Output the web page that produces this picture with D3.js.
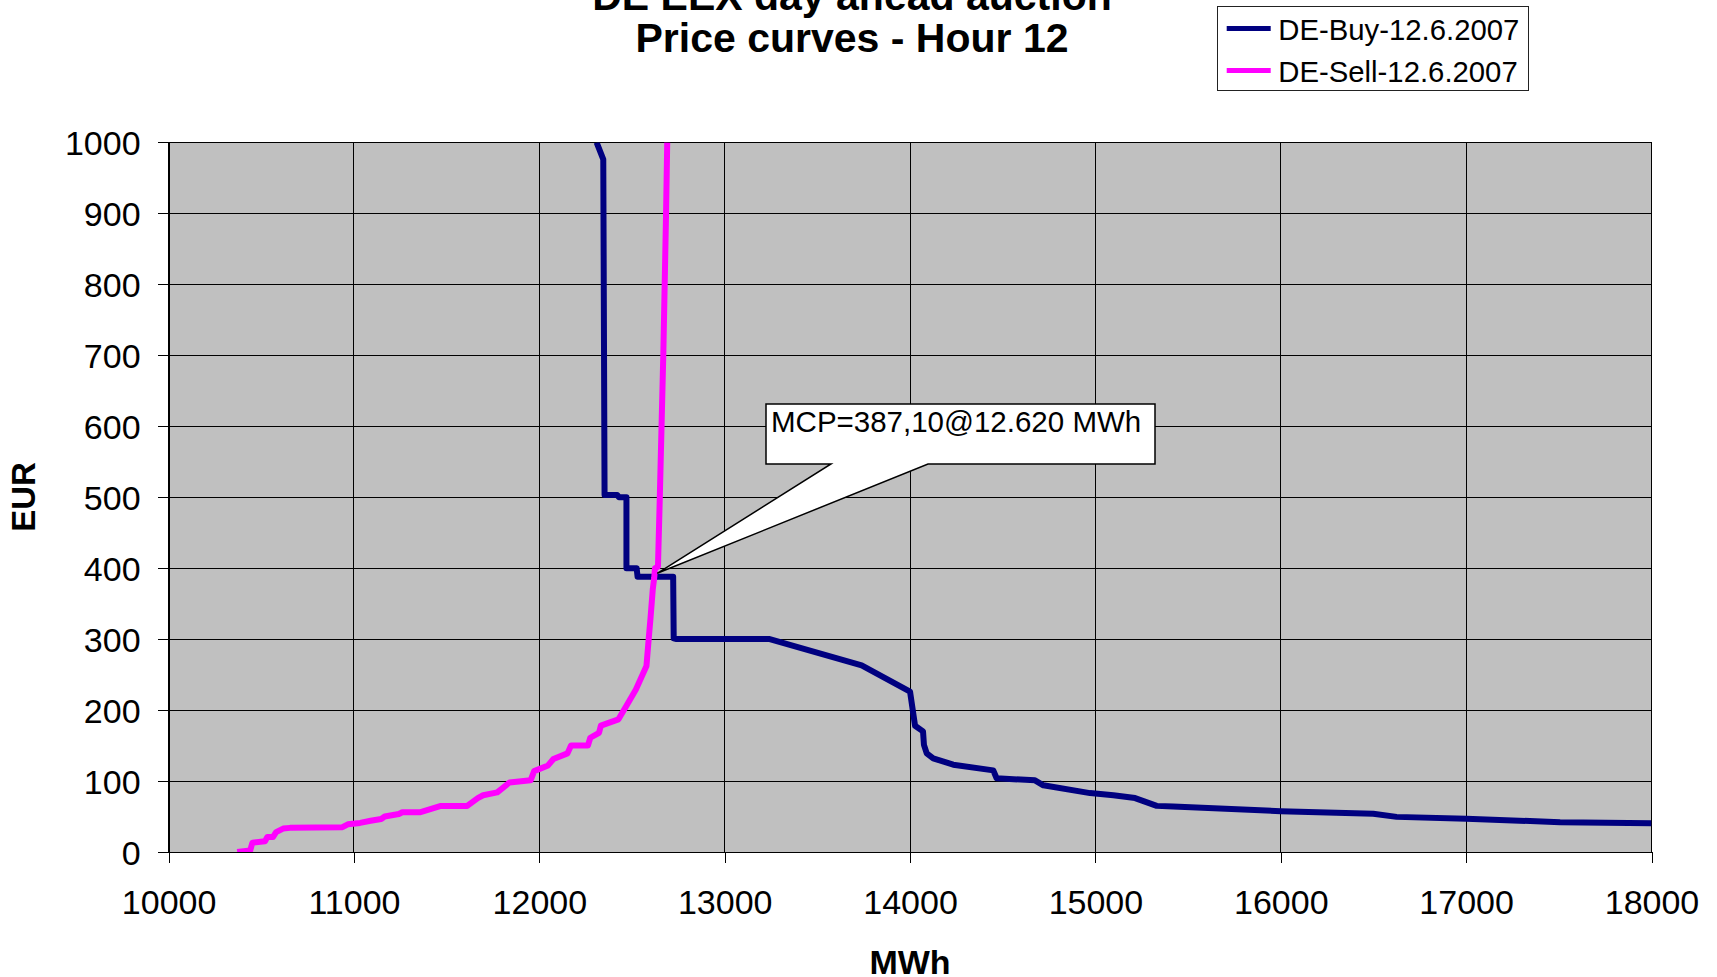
<!DOCTYPE html>
<html>
<head>
<meta charset="utf-8">
<script src="https://cdn.jsdelivr.net/npm/d3@7"></script>
<style>
  html, body { margin: 0; padding: 0; background: #fff; }
  svg { display: block; }
  text { font-family: Arial, "Liberation Sans", sans-serif; fill: #000; }
</style>
</head>
<body>
<svg id="chart" width="1717" height="977"></svg>
<script>
// ---------------- DATA ----------------
const titleLines = ["DE EEX day ahead auction", "Price curves - Hour 12"];
const xAxisTitle = "MWh";
const yAxisTitle = "EUR";
const seriesNames = ["DE-Buy-12.6.2007", "DE-Sell-12.6.2007"];
const xTicks = [10000, 11000, 12000, 13000, 14000, 15000, 16000, 17000, 18000];
const yTicks = [0, 100, 200, 300, 400, 500, 600, 700, 800, 900, 1000];

const buyMWh = [12309, 12345, 12352, 12420, 12430, 12470, 12470, 12525, 12530, 12722, 12725, 12740,
  13243, 13739, 14000, 14027, 14070, 14075, 14090, 14125, 14233, 14449, 14467, 14674, 14719,
  14971, 15097, 15214, 15331, 15420, 16000, 16499, 16625, 17001, 17507, 18000];
const buyEUR = [1000, 976, 503, 503, 500, 500, 400, 400, 388, 388, 301, 300,
  300, 263, 226, 178, 170, 151, 139, 132, 123, 115, 104, 101, 94,
  83, 80, 76, 65, 64, 57.5, 54, 49.5, 47, 42, 40.5];

const sellMWh = [10370, 10440, 10452, 10520, 10532, 10563, 10580, 10618, 10655, 10938, 10967, 11033,
  11090, 11147, 11166, 11242, 11261, 11355, 11469, 11611, 11668, 11697, 11773, 11839, 11953, 11972,
  12047, 12076, 12152, 12171, 12262, 12275, 12322, 12332, 12427, 12474, 12521, 12578, 12590, 12600,
  12612, 12620, 12624, 12640, 12650, 12669, 12683, 12690];
const sellEUR = [0, 2, 13, 15, 21, 21, 28, 33, 34, 35, 39, 41,
  44, 46.5, 50, 53.5, 56, 56, 65, 65, 76, 80, 84, 98, 101, 114,
  122, 131, 139, 150, 150, 161, 168, 178, 187, 208, 229, 262, 300, 330,
  370, 387, 400, 402, 500, 703, 890, 1000];

const mcpLabel = "MCP=387,10@12.620 MWh";
const mcpVolume = 12620;
const mcpPrice = 387.1;

const seriesColors = ["#000080", "#FF00FF"];

// ---------------- LAYOUT ----------------
const svg = d3.select("#chart");
const plot = { left: 168.6, right: 1651.5, top: 142.4, bottom: 852 };

const x = d3.scaleLinear().domain([10000, 18000]).range([plot.left, plot.right]);
const y = d3.scaleLinear().domain([0, 1000]).range([plot.bottom, plot.top]);

// plot background
svg.append("rect")
  .attr("x", plot.left).attr("y", plot.top)
  .attr("width", plot.right - plot.left).attr("height", plot.bottom - plot.top)
  .attr("fill", "#C0C0C0");

// gridlines
const grid = svg.append("g").attr("shape-rendering", "crispEdges");
grid.selectAll("line.h").data(yTicks).join("line")
  .attr("x1", plot.left).attr("x2", plot.right)
  .attr("y1", d => y(d)).attr("y2", d => y(d))
  .attr("stroke", "#000").attr("stroke-width", 1);
grid.selectAll("line.v").data(xTicks).join("line")
  .attr("y1", plot.top).attr("y2", plot.bottom)
  .attr("x1", d => x(d)).attr("x2", d => x(d))
  .attr("stroke", "#000").attr("stroke-width", 1);

// axes
const yAxis = svg.append("g")
  .attr("transform", `translate(${plot.left},0)`)
  .call(d3.axisLeft(y).tickValues(yTicks).tickSize(11).tickPadding(17).tickFormat(d3.format("d")));
const xAxis = svg.append("g")
  .attr("transform", `translate(0,${plot.bottom})`)
  .call(d3.axisBottom(x).tickValues(xTicks).tickSize(11).tickPadding(27).tickFormat(d3.format("d")));
[xAxis, yAxis].forEach(a => {
  a.selectAll(".domain").attr("stroke", "#000").attr("shape-rendering", "crispEdges");
  a.selectAll(".tick line").attr("stroke", "#000").attr("shape-rendering", "crispEdges");
  a.selectAll("text").attr("font-size", 34).attr("font-family", "Arial, 'Liberation Sans', sans-serif").attr("fill", "#000");
});
yAxis.selectAll("text").attr("dy", "0.36em");
xAxis.selectAll("text").attr("dy", "0.72em");

// clip
svg.append("clipPath").attr("id", "plotClip").append("rect")
  .attr("x", plot.left).attr("y", plot.top)
  .attr("width", plot.right - plot.left).attr("height", plot.bottom - plot.top);

const line = d3.line().x(d => x(d[0])).y(d => y(d[1]));
const buyData = buyMWh.map((v, i) => [v, buyEUR[i]]);
const sellData = sellMWh.map((v, i) => [v, sellEUR[i]]);

const lines = svg.append("g").attr("clip-path", "url(#plotClip)");
lines.append("path").datum(buyData).attr("d", line)
  .attr("fill", "none").attr("stroke", seriesColors[0]).attr("stroke-width", 6)
  .attr("stroke-linejoin", "round");
lines.append("path").datum(sellData).attr("d", line)
  .attr("fill", "none").attr("stroke", seriesColors[1]).attr("stroke-width", 6)
  .attr("stroke-linejoin", "round");

// callout
const tipX = x(mcpVolume) + 3, tipY = y(mcpPrice) - 4;
const bx0 = 766, by0 = 404, bx1 = 1155, by1 = 464;
const p1 = 928, p2 = 831;
svg.append("path")
  .attr("d", `M${bx0},${by0}H${bx1}V${by1}H${p1}L${tipX},${tipY}L${p2},${by1}H${bx0}Z`)
  .attr("fill", "#fff").attr("stroke", "#000").attr("stroke-width", 1.5)
  .attr("stroke-linejoin", "miter");
svg.append("text").attr("x", bx0 + 5).attr("y", by0 + 28)
  .attr("font-size", 29.5).text(mcpLabel);

// titles
svg.append("text").attr("x", 852).attr("y", 10).attr("text-anchor", "middle")
  .attr("font-size", 41).attr("font-weight", "bold").text(titleLines[0]);
svg.append("text").attr("x", 852).attr("y", 51.5).attr("text-anchor", "middle")
  .attr("font-size", 41).attr("font-weight", "bold").text(titleLines[1]);

// axis titles
svg.append("text").attr("x", 910).attr("y", 974).attr("text-anchor", "middle")
  .attr("font-size", 34).attr("font-weight", "bold").text(xAxisTitle);
svg.append("text").attr("transform", "translate(35,497) rotate(-90)").attr("text-anchor", "middle")
  .attr("font-size", 33).attr("font-weight", "bold").text(yAxisTitle);

// legend
const lg = svg.append("g");
lg.append("rect").attr("x", 1217.5).attr("y", 6.5).attr("width", 311).attr("height", 84)
  .attr("fill", "#fff").attr("stroke", "#222").attr("stroke-width", 1);
const legendRows = [40, 82];
seriesNames.forEach((name, i) => {
  lg.append("line").attr("x1", 1226.7).attr("x2", 1270.7)
    .attr("y1", legendRows[i] - 11.5).attr("y2", legendRows[i] - 11.5)
    .attr("stroke", seriesColors[i]).attr("stroke-width", 5);
  lg.append("text").attr("x", 1278.3).attr("y", legendRows[i])
    .attr("font-size", 29.3).text(name);
});
</script>
</body>
</html>
